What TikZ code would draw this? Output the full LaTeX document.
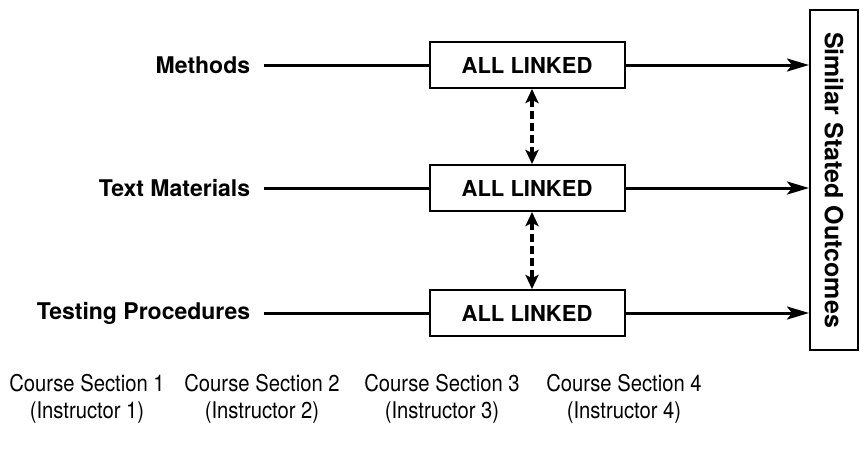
\documentclass[tikz,border=0pt]{standalone}
\usepackage{fontspec}
\setmainfont{TeX Gyre Heros}
\usepackage{graphicx}
\usetikzlibrary{arrows.meta, positioning}
\tikzstyle{block} = [rectangle, draw, line width=1pt, minimum width=97.5pt, minimum height=23pt, font=\fontsize{11}{13}\selectfont\bfseries]
\tikzstyle{factor} = [inner sep=0pt, font=\fontsize{11.5}{14}\selectfont\bfseries]
\tikzstyle{outbox} = [rectangle, draw, line width=1pt, minimum width=24pt, minimum height=170pt, inner sep=0pt, font=\fontsize{12.5}{15}\selectfont\bfseries]
\tikzstyle{section} = [align=center, inner sep=0pt, font=\fontsize{11.5}{13.5}\selectfont]
\tikzstyle{flow} = [line width=1.5pt, -{Stealth[length=11pt, width=6.5pt, inset=2.5pt]}]
\tikzstyle{linkarrow} = [line width=1.6pt, dash pattern=on 4pt off 2pt, {Stealth[length=7pt, width=6.5pt, inset=1.5pt]}-{Stealth[length=7pt, width=6.5pt, inset=1.5pt]}]

\begin{document}
\begin{tikzpicture}[x=0.5pt, y=-0.5pt]
		\useasboundingbox (0,0) rectangle (866,457);

		\node [block] (link1) at (527,65) {ALL LINKED};
		\node [block, below=37.5pt of link1] (link2) {ALL LINKED};
		\node [block, below=38.5pt of link2] (link3) {ALL LINKED};

		\node [factor, left=89pt of link1] (methods) {Methods};
		\node [factor, left=89pt of link2] (materials) {Text Materials};
		\node [factor, left=89pt of link3] (testing) {Testing Procedures};

		\node [outbox] (outcomes) at (834,180) {\rotatebox{-90}{Similar Stated Outcomes}};

		\node [section] (sec1) at (87,399) {\scalebox{0.88}[1]{Course Section 1}\\\scalebox{0.88}[1]{(Instructor 1)}};
		\node [section] (sec2) at (262,399) {\scalebox{0.88}[1]{Course Section 2}\\\scalebox{0.88}[1]{(Instructor 2)}};
		\node [section] (sec3) at (442,399) {\scalebox{0.88}[1]{Course Section 3}\\\scalebox{0.88}[1]{(Instructor 3)}};
		\node [section] (sec4) at (624,399) {\scalebox{0.88}[1]{Course Section 4}\\\scalebox{0.88}[1]{(Instructor 4)}};

		\draw[line width=1.5pt, shorten <=6.5pt] (methods.east) -- (link1.west);
		\draw[line width=1.5pt, shorten <=6.5pt] (materials.east) -- (link2.west);
		\draw[line width=1.5pt, shorten <=6.5pt] (testing.east) -- (link3.west);

		\draw[flow] (link1.east) -- (link1.east -| outcomes.west);
		\draw[flow] (link2.east) -- (link2.east -| outcomes.west);
		\draw[flow] (link3.east) -- (link3.east -| outcomes.west);

		\draw[linkarrow] ([xshift=2.5pt]link1.south) -- ([xshift=2.5pt]link2.north);
		\draw[linkarrow] ([xshift=2.5pt]link2.south) -- ([xshift=2.5pt]link3.north);

	\end{tikzpicture}
\end{document}
